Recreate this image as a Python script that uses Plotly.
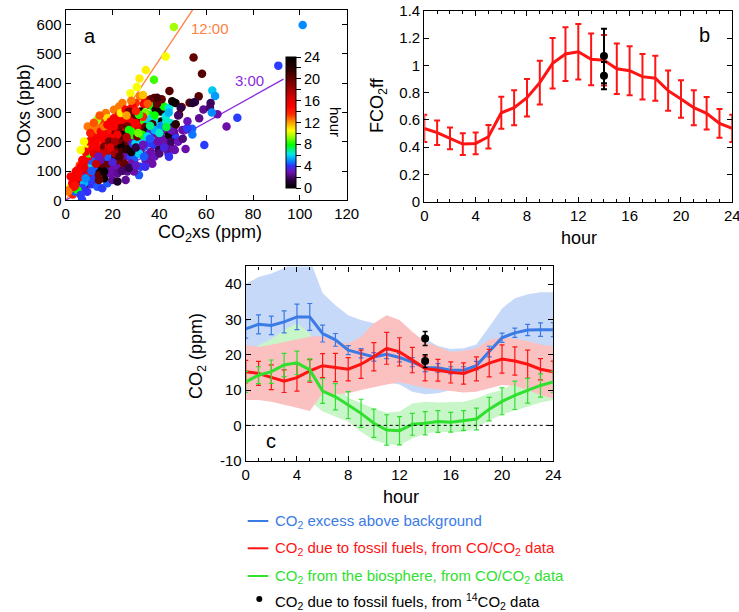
import plotly.graph_objects as go

W, H = 739, 612
FONT = "Liberation Sans, Arial, Helvetica, sans-serif"

# ---------------- Panel a data: CO2 excess (ppm), CO excess (ppb), hour ----------------
co2xs = [46.2, 101.2, 42.7, 54.6, 58.2, 90.8, 34.2, 31.5, 37.7, 30.4, 44.3, 62.6, 63.8, 56.8, 52.9, 55.2,
         49.5, 58.8, 61.6, 64.8, 68.7, 73.3, 62.4, 59.2, 54.0, 54.1, 51.7, 46.6, 46.6, 43.6, 43.9, 37.0,
         27.7, 31.7, 34.1, 36.3, 37.7, 35.6, 33.4, 29.9, 24.2, 24.9, 28.5, 32.0, 37.0, 38.4, 40.6, 42.0,
         44.1, 45.5, 46.9, 49.1, 48.4, 40.8, 42.7, 44.8, 46.2, 42.0, 39.8, 37.7, 35.6, 34.1, 32.7, 29.2,
         30.6, 33.4, 34.9, 37.0, 38.4, 40.6, 42.0, 44.1, 46.2, 41.3, 43.4, 44.1, 46.2, 51.2, 47.0, 49.8,
         51.9, 61.9, 54.1,
         3, 4, 5, 6, 7, 8, 9, 10, 11, 12, 13, 14, 15, 16, 17, 18, 19, 20, 21, 22, 23, 24, 25, 26, 27,
         28, 29, 30, 31, 32, 33, 34, 35, 36, 37, 38, 39, 41, 39, 34, 33, 30, 28, 25, 23, 21, 19, 17,
         15, 13, 11, 9, 7, 6, 8, 10, 12, 14, 16, 18, 26, 36, 39, 41, 43, 45, 47, 48, 52, 57, 44,
         13.5, 12.8, 17.1, 20.6, 17.8, 20.6, 22.8, 22.1, 24.2, 26.3, 15.0, 16.4, 17.8, 19.2, 21.3, 23.5,
         25.7, 27.0, 24.9, 26.3, 27.8, 28.5, 29.9, 32.0, 33.4, 32.0, 34.9, 34.1, 36.3, 32.0, 31.3, 29.2,
         26.3, 25.6, 23.5, 22.1, 20.6, 19.2, 17.8, 15.6, 13.5, 12.1, 10.7, 9.2, 7.8, 7.1, 9.2, 13.5,
         15.6, 17.8, 19.9, 22.1, 16.4, 14.2, 12.1, 10.7, 9.2, 7.8, 6.4, 5.7, 4.3, 3.5, 2.1, 1.4,
         5.0, 6.4, 9.9, 9.2, 11.4, 8.5, 12.8, 14.2, 16.4, 18.5, 19.9, 22.1, 23.5, 24.2, 25.6, 27.8,
         29.2, 27.8, 29.9, 31.3, 17.8, 15.0, 12.8, 11.4, 10.0, 14.2, 19.2, 22.1, 24.9, 16.4, 5.0, 7.1,
         9.9, 11.4, 13.5, 15.0, 16.4, 17.8, 19.2, 21.3, 22.8, 23.5, 25.6, 27.0, 28.5, 29.9, 31.3, 29.9,
         27.7, 26.3, 20.6, 19.9, 18.5, 20.6, 22.8, 24.2, 22.1, 27.0, 28.5, 30.6, 32.7, 34.9, 35.6, 37.7,
         39.1, 39.8, 33.4, 36.3, 13.5, 11.4, 7.8, 6.4, 4.3, 2.1, 3.5, 1.0, 2.8, 9.4, 7.0,
         10.5, 12.0, 14.5, 8.0, 6.0, 4.0, 10.0, 12.0, 13.0, 15.5, 18.0, 21.0, 23.0, 26.0, 28.0, 30.0,
         33.0, 36.0, 38.0, 40.0, 43.0, 36.0, 31.0, 26.0, 21.0, 19.0, 14.0, 11.0, 8.5, 20.0, 24.0, 27.0,
         30.0, 34.0, 38.0, 40.0, 42.0, 45.0, 48.0, 50.0, 33.0, 35.0, 26.0, 28.0, 30.0]
coxs = [592, 599, 491, 488, 432, 460, 445, 416, 412, 387, 373, 375, 356, 355, 333, 336,
        319, 310, 317, 294, 252, 282, 300, 189, 244, 225, 243, 221, 172, 193, 158, 125,
        366, 355, 343, 345, 349, 326, 329, 332, 332, 309, 320, 303, 320, 309, 303, 320,
        315, 338, 332, 315, 292, 269, 286, 263, 252, 240, 252, 275, 292, 275, 269, 252,
        240, 240, 258, 240, 227, 218, 206, 223, 235, 189, 172, 149, 175, 175, 212, 240,
        246, 332, 332,
        20, 30, 55, 45, 65, 50, 60, 80, 55, 95, 70, 110, 90, 130, 110, 100, 140, 120, 110, 160, 130,
        190, 120, 200, 180, 150, 210, 170, 250, 230, 210, 250, 240, 280, 260, 290, 330, 345, 350, 300,
        285, 270, 260, 255, 230, 215, 200, 190, 185, 170, 150, 130, 100, 120, 140, 170, 210, 230, 265,
        240, 235, 230, 240, 255, 270, 240, 260, 290, 270, 280, 300,
        252, 235, 298, 309, 280, 280, 292, 263, 275, 280, 218, 206, 224, 240, 229, 246,
        235, 224, 212, 195, 206, 183, 195, 201, 183, 166, 155, 138, 138, 115, 86, 98,
        98, 69, 115, 138, 149, 115, 126, 115, 103, 80, 69, 92, 58, 41, 29, 46,
        41, 58, 69, 64, 75, 69, 115, 138, 149, 126, 115, 92, 75, 64, 46, 35,
        35, 18, 160, 183, 178, 166, 195, 172, 183, 189, 172, 178, 189, 166, 149, 149,
        138, 126, 155, 160, 149, 138, 149, 126, 109, 86, 92, 92, 126, 98, 103, 138,
        201, 218, 212, 235, 252, 258, 269, 275, 320, 298, 309, 303, 292, 280, 292, 263,
        269, 252, 252, 212, 201, 195, 206, 224, 224, 240, 224, 218, 224, 218, 195, 189,
        201, 172, 149, 166, 275, 252, 201, 172, 98, 81, 46, 30, 58, 252, 2,
        230, 265, 290, 110, 80, 50, 95, 160, 125, 160, 170, 160, 150, 175, 165, 180,
        190, 210, 240, 230, 250, 255, 230, 215, 200, 180, 150, 100, 75, 130, 100, 110,
        120, 115, 150, 160, 180, 200, 200, 210, 360, 330, 290, 340, 305]
hour = [9.5, 5.0, 10.5, 20, 20.5, 4.2, 10.8, 10.8, 8.5, 10.5, 20.5, 5.8, 5.2, 20.5, 20.5, 1.5,
        20, 2.5, 2.0, 2.8, 2.8, 4.2, 5.0, 4.2, 4.5, 4.8, 2.8, 2.8, 2.8, 2.8, 4.2, 2.8,
        10.5, 12.5, 15, 19.5, 20, 20, 15, 13.5, 12.5, 15, 15, 23, 8, 23, 23, 8,
        6.2, 23, 23.5, 1.5, 20.5, 23.5, 6.2, 6.0, 1.0, 2.8, 6.0, 6.2, 8.0, 8.0, 8.5, 8.0,
        8.2, 19.5, 6.0, 4.5, 2.8, 2.5, 2.8, 23.5, 2.5, 2.8, 2.5, 4.0, 2.8, 2.8, 4.2, 2.8,
        4.2, 1.8, 1.2,
        14, 4.5, 3, 16, 18, 2.5, 22, 15, 4, 1.5, 3.5, 15, 21, 15, 2, 5, 22, 20, 3, 15, 2.5,
        16, 4, 8, 23, 3, 18, 5, 16, 21, 7, 20, 23, 6, 21, 8, 20, 20, 21, 9,
        14, 19, 14, 18, 13, 15, 17, 15, 13.5, 15, 14, 15, 16, 13, 12, 13, 14, 16, 14,
        21, 22, 3.5, 4.5, 5, 6.5, 3, 22, 2, 3, 2.5, 5.5,
        12.5, 12.5, 12.5, 12.5, 11, 15, 15, 15, 15, 15.5, 15, 15, 15, 14.5, 19, 19.5,
        15, 19.5, 23.5, 19.5, 2.8, 4.2, 6.0, 6.0, 4.5, 2.8, 4.2, 2.8, 2.8, 4.2, 4.5, 2.8,
        2.5, 2.5, 2.8, 19.5, 23.5, 2.8, 20, 20, 23.5, 4.2, 4.2, 2.8, 5.5, 4.2, 4.0, 4.5,
        4.2, 4.5, 2.5, 1.0, 23.5, 20, 4.5, 15, 15, 15, 15, 15, 15, 15, 10.5, 12.5,
        8, 4.2, 8.5, 10.5, 15, 15, 15, 15, 19.5, 15, 19.5, 20, 23.5, 21, 2.8, 4.2,
        4.5, 2.8, 4.5, 6.0, 4.5, 2.8, 4.5, 4.5, 6.0, 20, 2.8, 2.5, 20, 23.5, 15, 15,
        15, 15, 15, 15, 12.5, 15, 15, 15, 12.5, 10.8, 15, 19.5, 20, 20, 8.2, 15,
        15, 19.5, 15, 15, 19.5, 23, 19.5, 23.5, 15, 8.0, 8.2, 19.5, 8.0, 6.0, 4.2, 4.2,
        2.8, 1.5, 4.5, 2.8, 9.5, 12.5, 10.5, 10.5, 15, 15, 15, 12.5, 15, 12.5, 4.2,
        14, 13, 13, 15.5, 15, 14.5, 16, 16, 17, 16.5, 17, 18, 21, 22, 23.5, 1.5,
        3, 4.5, 5.5, 6.5, 7.5, 7, 9, 17.5, 18, 16, 3, 4.5, 5, 3.5, 2, 1.5,
        3.2, 3.8, 3, 2.2, 3.6, 1.8, 3, 2.2, 11.5, 13, 12, 12.5, 14]

# regression slopes (ppb per ppm) for the two reference lines
slope_noon = 12.0
slope_3am = 4.45
line_x_noon = [0, 54.2]
line_x_3am = [0, 93.0]

# ---------------- Panel b data ----------------
hours = list(range(25))
fco2ff = [0.538, 0.507, 0.465, 0.423, 0.428, 0.477, 0.653, 0.690, 0.763, 0.874, 1.016, 1.084, 1.101,
          1.045, 1.038, 0.976, 0.962, 0.918, 0.906, 0.815, 0.754, 0.690, 0.649, 0.575, 0.538]
fco2ff_err = [0.10, 0.09, 0.08, 0.08, 0.08, 0.087, 0.117, 0.128, 0.138, 0.16, 0.185, 0.197, 0.203,
              0.19, 0.185, 0.185, 0.18, 0.167, 0.165, 0.148, 0.137, 0.128, 0.119, 0.106, 0.10]
c14_hours = [14, 14]
fco2ff_14c = [1.07, 0.925]
fco2ff_14c_err = [0.2, 0.1]
fco2ff_ticks = [0, 0.2, 0.4, 0.6, 0.8, 1.0, 1.2, 1.4]
fco2ff_ticktext = ["0", "0.2", "0.4", "0.6", "0.8", "1", "1.2", "1.4"]

# ---------------- Panel c data ----------------
co2_excess = [27.3, 28.6, 28.3, 29.3, 30.7, 30.7, 26.0, 24.2, 21.3, 20.4, 19.4, 20.1, 19.2, 17.9, 16.4,
              16.3, 15.6, 15.6, 16.9, 20.9, 24.8, 26.2, 27.0, 27.1, 27.1]
co2_excess_err = [2.6, 2.7, 2.6, 3.1, 3.6, 3.8, 2.4, 1.8, 1.3, 1.3, 1.2, 1.2, 1.2, 1.3, 1.2, 1.2, 1.0,
                  1.0, 1.2, 1.5, 1.3, 1.3, 1.6, 1.9, 2.0]
co2_excess_hi = [40, 42, 43, 44.5, 47, 47, 37.5, 34, 31.2, 29.8, 28.9, 27.5, 26.5, 25.5, 24.5, 22.5,
                 21.6, 21.8, 22.9, 27.9, 33.1, 36, 37.1, 37.7, 37.7]
co2_excess_lo = [16, 17, 17, 17, 17, 17, 15, 14, 13, 12.5, 12.3, 12.2, 11.6, 9.5, 8.8, 9.1, 10, 10.6,
                 11, 14, 17, 18, 18, 18, 18]

co2_ff = [15.2, 14.7, 13.6, 12.5, 13.5, 15.4, 16.9, 16.4, 15.9, 17.3, 19.4, 21.8, 20.8, 18.5, 16.1,
          15.6, 15.0, 14.7, 16.0, 17.6, 18.8, 18.2, 17.3, 15.9, 15.2]
co2_ff_err = [3.2, 3.4, 3.5, 3.2, 3.8, 3.2, 3.4, 4.0, 3.3, 4.0, 4.0, 4.5, 4.0, 3.6, 3.5, 3.1, 3.0, 3.0,
              3.4, 3.9, 4.0, 4.0, 4.0, 3.0, 3.0]
co2_ff_hi = [22.7, 22.2, 22.8, 23.5, 24.4, 25.1, 25.3, 23.7, 23.2, 25.1, 28.9, 31.2, 29.8, 26.5, 23.5,
             22.3, 20.8, 21.1, 21.8, 24.2, 25.1, 24.6, 23.9, 22.9, 22.3]
co2_ff_lo = [7.2, 7.2, 6.7, 5.9, 5.0, 4.1, 9.1, 8.8, 9.1, 10.0, 10.9, 11.6, 12.2, 11.4, 10.6, 10.0, 9.7,
             9.3, 9.5, 10.5, 11.4, 11.2, 10.0, 8.6, 7.6]

co2_bio = [12.3, 14.2, 15.2, 17.1, 17.7, 15.7, 9.7, 8.1, 5.75, 3.4, 0.6, -1.3, -1.5, 0.3, 0.6, 1.1, 0.9,
           1.4, 1.8, 4.6, 6.8, 8.5, 9.8, 11.3, 12.3]
co2_bio_err = [3.0, 2.4, 3.3, 3.3, 3.3, 3.1, 3.5, 3.7, 3.8, 4.0, 4.0, 4.3, 4.0, 3.1, 3.3, 3.1, 2.8, 2.8,
               3.1, 3.3, 3.8, 4.0, 3.5, 3.3, 3.0]
co2_bio_hi = [19, 22.7, 24.4, 27, 28.9, 26, 15.5, 12, 7.8, 6.3, 4.8, 3.6, 3.9, 6.2, 6.7, 6.5, 6.5, 6.7,
              7.6, 9.1, 10, 12, 14, 15.5, 17]
co2_bio_lo = [7, 8.5, 9, 9, 9, 7, 3.9, 2.4, 1.0, -1.8, -4.2, -5.3, -5.6, -3.7, -2.3, -1.9, -2.0, -1.9,
              -0.6, 1.3, 3.1, 4.3, 5.3, 6.5, 7.2]

co2_ff_14c = [24.6, 18.2]
co2_ff_14c_err = [2.0, 1.8]

legend_labels = [
    "CO<sub>2</sub> excess above background",
    "CO<sub>2</sub> due to fossil fuels, from CO/CO<sub>2</sub> data",
    "CO<sub>2</sub> from the biosphere, from CO/CO<sub>2</sub> data",
    "CO<sub>2</sub> due to fossil fuels, from <sup>14</sup>CO<sub>2</sub> data",
]

# ---------------- styles ----------------
BLUE = "#3a7be6"
RED = "#ff1414"
GREEN = "#2fe02f"
BLUE_BAND = "#c7d9f8"
RED_BAND = "#fbc0c0"
GREEN_BAND = "#c8f6c8"
ORANGE = "#ff8040"
PURPLE = "#8a2be2"

colorscale = [
    [0.00, "#000000"], [0.06, "#2a0040"], [0.12, "#7010b0"], [0.17, "#3030ff"],
    [0.21, "#0090ff"], [0.26, "#00e8e8"], [0.33, "#00ff00"], [0.40, "#b0ff00"],
    [0.44, "#ffff00"], [0.50, "#ffa000"], [0.56, "#ff3000"], [0.62, "#ff0000"],
    [0.70, "#d00000"], [0.80, "#800000"], [0.90, "#300000"], [1.00, "#000000"],
]


def px(xp):
    return xp / W


def py(yp):
    return 1 - yp / H


fig = go.Figure()

# ---- panel a ----
fig.add_trace(go.Scatter(
    x=line_x_noon, y=[slope_noon * v for v in line_x_noon], mode="lines",
    line=dict(color=ORANGE, width=1.3), xaxis="x", yaxis="y", showlegend=False, hoverinfo="skip"))
fig.add_trace(go.Scatter(
    x=line_x_3am, y=[slope_3am * v for v in line_x_3am], mode="lines",
    line=dict(color=PURPLE, width=1.3), xaxis="x", yaxis="y", showlegend=False, hoverinfo="skip"))
fig.add_trace(go.Scatter(
    x=co2xs, y=coxs, mode="markers", xaxis="x", yaxis="y", showlegend=False,
    marker=dict(
        color=hour, colorscale=colorscale, cmin=0, cmax=24, size=8.5, line=dict(width=0),
        colorbar=dict(
            x=px(285.7), xanchor="left", xpad=0, ypad=0,
            y=py(122.5), yanchor="middle", len=131 / H, lenmode="fraction",
            thickness=9.5, thicknessmode="pixels",
            outlinewidth=1, outlinecolor="black",
            ticks="outside", ticklen=5, tickcolor="black",
            tickvals=list(range(0, 25, 2)),
            ticktext=[str(v) if v % 4 == 0 else "" for v in range(0, 25, 2)],
            tickfont=dict(family=FONT, size=14.5, color="black"),
            bgcolor="rgba(0,0,0,0)",
        ),
    ),
))

# ---- panel b ----
fig.add_trace(go.Scatter(
    x=hours, y=fco2ff, mode="lines", xaxis="x2", yaxis="y2", showlegend=False,
    line=dict(color=RED, width=3),
    error_y=dict(type="data", array=fco2ff_err, color=RED, thickness=2, width=3)))
fig.add_trace(go.Scatter(
    x=c14_hours, y=fco2ff_14c, mode="markers", xaxis="x2", yaxis="y2", showlegend=False,
    marker=dict(color="black", size=8),
    error_y=dict(type="data", array=fco2ff_14c_err, color="black", thickness=2, width=3)))

# ---- panel c ----
for hi, lo, col in [(co2_excess_hi, co2_excess_lo, BLUE_BAND),
                    (co2_bio_hi, co2_bio_lo, GREEN_BAND),
                    (co2_ff_hi, co2_ff_lo, RED_BAND)]:
    fig.add_trace(go.Scatter(
        x=hours + hours[::-1], y=hi + lo[::-1], mode="lines", fill="toself",
        fillcolor=col, line=dict(width=0, color=col), xaxis="x3", yaxis="y3",
        showlegend=False, hoverinfo="skip"))

for vals, errs, col in [(co2_excess, co2_excess_err, BLUE),
                        (co2_ff, co2_ff_err, RED),
                        (co2_bio, co2_bio_err, GREEN)]:
    fig.add_trace(go.Scatter(
        x=hours, y=vals, mode="lines", xaxis="x3", yaxis="y3", showlegend=False,
        line=dict(color=col, width=3),
        error_y=dict(type="data", array=errs, color=col, thickness=1.2, width=2.5)))

fig.add_trace(go.Scatter(
    x=c14_hours, y=co2_ff_14c, mode="markers", xaxis="x3", yaxis="y3", showlegend=False,
    marker=dict(color="black", size=8),
    error_y=dict(type="data", array=co2_ff_14c_err, color="black", thickness=1.5, width=2.5)))

# ---------------- axes ----------------
base = dict(showline=True, linecolor="black", linewidth=1.2, mirror="allticks", ticks="inside",
            tickcolor="black", ticklen=5, tickwidth=1, showgrid=False, zeroline=False,
            tickfont=dict(family=FONT, size=15, color="black"), fixedrange=True, automargin=False,
            ticklabeloverflow="allow")
minor_h = dict(dtick=1, ticks="inside", ticklen=3, tickcolor="black", showgrid=False)

fig.update_layout(
    xaxis=dict(base, domain=[px(65.7), px(346.7)], range=[0, 120], dtick=20, anchor="y"),
    yaxis=dict(base, domain=[py(200.3), py(10)], range=[0, 650], dtick=100, anchor="x"),
    xaxis2=dict(base, domain=[px(424.3), px(732.3)], range=[0, 24], dtick=4, anchor="y2", minor=minor_h),
    yaxis2=dict(base, domain=[py(201.7), py(11)], range=[0, 1.4], anchor="x2",
                tickvals=fco2ff_ticks, ticktext=fco2ff_ticktext),
    xaxis3=dict(base, domain=[px(245.7), px(553.3)], range=[0, 24], dtick=4, anchor="y3", minor=minor_h),
    yaxis3=dict(base, domain=[py(460.7), py(266.4)], range=[-10, 45], anchor="x3",
                tickvals=[-10, 0, 10, 20, 30, 40], ticktext=["-10", "0", "10", "20", "30", "40"]),
    width=W, height=H, margin=dict(l=0, r=0, t=0, b=0, autoexpand=False),
    paper_bgcolor="white", plot_bgcolor="white",
    font=dict(family=FONT, color="black"),
    showlegend=False,
)

# zero reference line in panel c
fig.add_shape(type="line", xref="x3", yref="y3", x0=0, x1=24, y0=0, y1=0,
              line=dict(color="black", width=1, dash="dot"), layer="above")

ann = []


def A(text, x, y, size=18, color="black", angle=0, xanchor="center", yanchor="middle", xref="paper", yref="paper"):
    ann.append(dict(text=text, x=x, y=y, xref=xref, yref=yref, showarrow=False, textangle=angle,
                    xanchor=xanchor, yanchor=yanchor, font=dict(family=FONT, size=size, color=color)))


# axis titles
A("COxs (ppb)", px(24), py(110), angle=-90)
A("CO<sub>2</sub>xs (ppm)", px(210), py(233))
A("FCO<sub>2</sub>ff", px(378), py(105), angle=-90)
A("hour", px(578.5), py(238))
A("CO<sub>2</sub> (ppm)", px(197), py(356), angle=-90)
A("hour", px(400.8), py(497))
A("hour", px(335), py(122), size=15, angle=90)

# panel labels
A("a", 7, 560, size=20, xref="x", yref="y", xanchor="left")
A("b", 21.8, 1.224, size=20, xref="x2", yref="y2")
A("c", 1.97, -4.4, size=20, xref="x3", yref="y3")

# line labels
A("12:00", 52.6, 586, size=15, color=ORANGE, xref="x", yref="y", xanchor="left")
A("3:00", 71.3, 408, size=15, color=PURPLE, xref="x", yref="y", xanchor="left")

# legend
leg_y = [521, 548.3, 576, 601]
leg_col = [BLUE, RED, GREEN, "black"]
for i, (lab, col) in enumerate(zip(legend_labels, leg_col)):
    A(lab, px(272.7), py(leg_y[i]), size=15, color=col, xanchor="left")
    if i < 3:
        fig.add_shape(type="line", xref="paper", yref="paper", x0=px(247.7), x1=px(268.3),
                      y0=py(leg_y[i]), y1=py(leg_y[i]), line=dict(color=col, width=2))
    else:
        fig.add_shape(type="circle", xref="paper", yref="paper",
                      x0=px(256.3), x1=px(262.3), y0=py(602), y1=py(596),
                      fillcolor="black", line=dict(color="black", width=0))

fig.update_layout(annotations=ann)
# remove the page's default body margin so the figure fills the window exactly
fig.write_html("out.html", config={"displayModeBar": False},
               post_script="document.body.style.margin='0';document.body.style.overflow='hidden';")
